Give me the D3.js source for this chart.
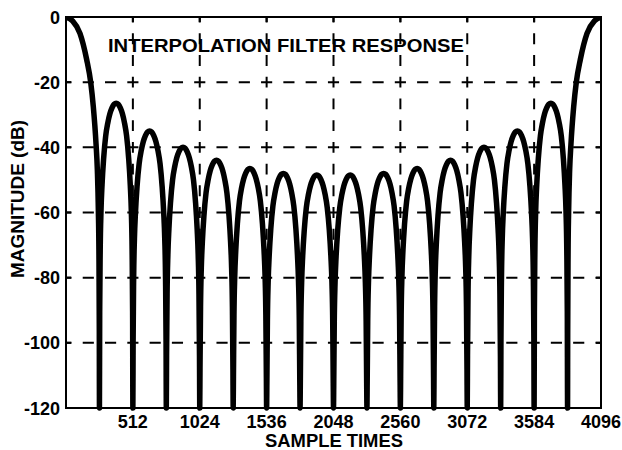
<!DOCTYPE html>
<html lang="en">
<head>
<meta charset="UTF-8">
<title>Interpolation Filter Response</title>
<script src="https://cdn.jsdelivr.net/npm/d3@7"></script>
<style>
    body { margin: 0; background: #fff; }
    text { font-family: "Liberation Sans", Arial, sans-serif; font-weight: bold; fill: #000; }
    .grid line { stroke: #000; stroke-width: 2; }
    .curve { fill: none; stroke: #000; stroke-width: 5.5; stroke-linejoin: round; }
</style>
</head>
<body>
<svg id="chart" width="622" height="450"></svg>
<script>
// tick values
const xTicks = [512, 1024, 1536, 2048, 2560, 3072, 3584, 4096];
const yTicks = [0, -20, -40, -60, -80, -100, -120];

// main lobe at sample 0 (mirrored at 4096), [sample, dB]
const mainLobe = [[0, 0], [50, -1.2], [107, -5], [158, -13], [189, -20], [209, -27.5],
    [230, -39], [240, -47], [248, -60], [252, -72], [255, -97], [256, -120]];

// nulls between side lobes
const nullTimes = [256, 512, 768, 1024, 1280, 1536, 1792, 2048, 2304, 2560, 2816, 3072, 3328, 3584, 3840];

// side lobe peak levels (dB), left to right
const lobePeaks = [-26.5, -35, -40, -44, -46.5, -48, -48.5, -48.5, -48, -46.5, -44, -40, -35, -26.5];

// lobe shape: offset from lobe centre (samples), dB below peak
const lobeProfile = [[0, 0], [16, -0.3], [32, -1.4], [48, -3.2], [64, -6], [80, -10],
    [96, -17], [108, -25], [116, -33], [122, -45], [126, -64]];

const width = 622, height = 450;
const margin = {top: 17, right: 21, bottom: 42, left: 66};
const w = width - margin.left - margin.right, h = height - margin.top - margin.bottom;

const svg = d3.select("#chart");
const g = svg.append("g").attr("transform", `translate(${margin.left},${margin.top})`);

const x = d3.scaleLinear().domain([0, 4096]).range([0, w]);
const y = d3.scaleLinear().domain([-120, 0]).range([h, 0]);

// build curve points
const pts = mainLobe.slice();
lobePeaks.forEach((pk, i) => {
    const c = nullTimes[i] + 128;
    const side = lobeProfile.slice().reverse().map(p => [c - p[0], Math.max(-120, pk + p[1])]);
    const other = lobeProfile.slice(1).map(p => [c + p[0], Math.max(-120, pk + p[1])]);
    side.forEach(p => pts.push(p));
    other.forEach(p => pts.push(p));
    pts.push([nullTimes[i + 1], -120]);
});
mainLobe.slice().reverse().forEach(p => { if (p[0] < 256) pts.push([4096 - p[0], p[1]]); });

// dashed grid, dashes centred on each crossing
const hPer = x(512) / 3, vPer = (y(-20) - y(0)) / 3;
g.append("g").attr("class", "grid")
    .selectAll("line").data(yTicks.slice(1, -1)).join("line")
    .attr("x1", 0).attr("x2", w).attr("y1", d => y(d)).attr("y2", d => y(d))
    .attr("stroke-dasharray", `${hPer * 0.5},${hPer * 0.5}`)
    .attr("stroke-dashoffset", hPer * 0.25);
g.append("g").attr("class", "grid")
    .selectAll("line").data(xTicks.slice(0, -1)).join("line")
    .attr("x1", d => x(d)).attr("x2", d => x(d)).attr("y1", 0).attr("y2", h)
    .attr("stroke-dasharray", `${vPer * 0.5},${vPer * 0.5}`)
    .attr("stroke-dashoffset", vPer * 0.25);

g.append("clipPath").attr("id", "clip")
    .append("rect").attr("width", w).attr("height", h + 3);

g.append("path").datum(pts)
    .attr("class", "curve")
    .attr("clip-path", "url(#clip)")
    .attr("d", d3.line().x(d => x(d[0])).y(d => y(d[1])).curve(d3.curveMonotoneX));

// frame and inward ticks
g.append("rect").attr("width", w).attr("height", h)
    .attr("fill", "none").attr("stroke", "#000").attr("stroke-width", 2);
const tk = g.append("g").attr("stroke", "#000").attr("stroke-width", 2);
xTicks.forEach(t => {
    tk.append("line").attr("x1", x(t)).attr("x2", x(t)).attr("y1", 0).attr("y2", 5);
    tk.append("line").attr("x1", x(t)).attr("x2", x(t)).attr("y1", h).attr("y2", h - 5);
});
yTicks.forEach(t => {
    tk.append("line").attr("x1", 0).attr("x2", 5).attr("y1", y(t)).attr("y2", y(t));
    tk.append("line").attr("x1", w).attr("x2", w - 5).attr("y1", y(t)).attr("y2", y(t));
});

// tick labels
g.append("g").selectAll("text").data(xTicks).join("text")
    .attr("x", d => x(d)).attr("y", h + 20)
    .attr("text-anchor", "middle").style("font-size", "18px")
    .text(d => d);
g.append("g").selectAll("text").data(yTicks).join("text")
    .attr("x", -6).attr("y", d => y(d) + 6.5)
    .attr("text-anchor", "end").style("font-size", "18px")
    .text(d => d);

// titles
g.append("text").attr("x", 42).attr("y", 35)
    .style("font-size", "19px")
    .attr("textLength", 356).attr("lengthAdjust", "spacingAndGlyphs")
    .text("INTERPOLATION FILTER RESPONSE");
svg.append("text").attr("x", 334).attr("y", 447)
    .attr("text-anchor", "middle").style("font-size", "18px")
    .attr("textLength", 138).attr("lengthAdjust", "spacingAndGlyphs")
    .text("SAMPLE TIMES");
svg.append("text").attr("transform", "translate(24,199) rotate(-90)")
    .attr("text-anchor", "middle").style("font-size", "18px")
    .attr("textLength", 158).attr("lengthAdjust", "spacingAndGlyphs")
    .text("MAGNITUDE (dB)");
</script>
</body>
</html>
